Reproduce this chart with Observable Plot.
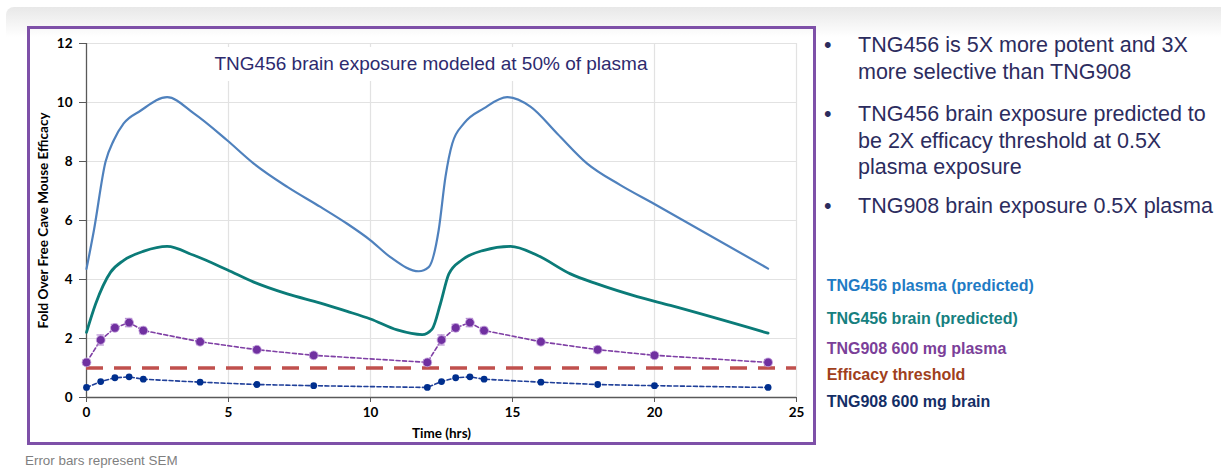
<!DOCTYPE html>
<html><head><meta charset="utf-8">
<script src="https://cdn.jsdelivr.net/npm/d3@7"></script>
<script src="https://cdn.jsdelivr.net/npm/@observablehq/plot@0.6"></script>
<style>
body{margin:0;width:1221px;height:470px;position:relative;background:#fff;font-family:"Liberation Sans",Arial,sans-serif;overflow:hidden}
#shade{position:absolute;left:6px;right:0;top:7px;height:30px;background:linear-gradient(#e8e8e8,rgba(255,255,255,0));border-top-left-radius:8px}
#frame{position:absolute;left:27px;top:26px;width:789px;height:419px;box-sizing:border-box;border:3px solid #7e50a8}
#chart{position:absolute;left:29px;top:27px}
#ptitle{position:absolute;left:211px;top:47px;width:440px;height:34px;line-height:34px;background:#fff;text-align:center;font-size:19px;color:#2d2a6e;white-space:nowrap}
.bul{position:absolute;left:858px;font-size:21.5px;line-height:26.5px;color:#2c2c5e;white-space:nowrap}
.dot{position:absolute;left:-34px;top:0;font-size:21.5px}
.leg{position:absolute;left:826.7px;font-size:16px;line-height:18px;font-weight:bold;white-space:nowrap}
#foot{position:absolute;left:25px;top:453.4px;font-size:13.4px;line-height:16px;color:#7f7f7f}
</style></head><body>
<div id="shade"></div>
<div id="chart"></div>
<div id="frame"></div>
<div id="ptitle"></div>
<div id="bullets"></div>
<div id="legend"></div>
<div id="foot">Error bars represent SEM</div>
<script>
// ---- data ----
const xTicks = [0, 5, 10, 15, 20, 25];
const yTicks = [0, 2, 4, 6, 8, 10, 12];

const tng456PlasmaT = [0, 0.26, 0.67, 0.96, 1.31, 1.9, 2.84, 3.78, 4.95, 5.89, 7.07, 8.24, 9.18, 10.0, 10.7, 11.7, 12.05, 12.4, 12.64, 12.88, 13.29, 13.99, 14.81, 15.63, 16.57, 17.63, 18.8, 19.98, 24.0];
const tng456PlasmaV = [4.36, 5.66, 7.99, 8.72, 9.29, 9.72, 10.18, 9.63, 8.72, 7.93, 7.14, 6.46, 5.89, 5.33, 4.76, 4.28, 4.42, 5.67, 7.48, 8.61, 9.29, 9.80, 10.18, 9.86, 8.95, 7.93, 7.20, 6.57, 4.37];

const tng456BrainT = [0, 0.32, 0.85, 1.31, 2.02, 2.84, 3.78, 4.95, 5.89, 7.07, 8.24, 9.18, 10.0, 10.94, 11.82, 12.17, 12.46, 12.76, 13.23, 13.99, 14.93, 15.87, 17.04, 17.98, 19.39, 20.56, 24.0];
const tng456BrainV = [2.21, 3.17, 4.25, 4.65, 4.96, 5.12, 4.82, 4.33, 3.91, 3.51, 3.20, 2.92, 2.66, 2.29, 2.13, 2.32, 3.17, 4.19, 4.67, 4.99, 5.12, 4.82, 4.19, 3.85, 3.42, 3.12, 2.18];

const tng908T = [0, 0.5, 1, 1.5, 2, 4, 6, 8, 12, 12.5, 13, 13.5, 14, 16, 18, 20, 24];
const tng908PlasmaV = [1.19, 1.95, 2.36, 2.54, 2.27, 1.89, 1.62, 1.43, 1.19, 1.95, 2.36, 2.54, 2.27, 1.89, 1.62, 1.43, 1.19];
const tng908PlasmaSEM = [0.08, 0.17, 0.12, 0.14, 0.11, 0.1, 0.1, 0.08, 0.08, 0.17, 0.12, 0.14, 0.11, 0.1, 0.1, 0.08, 0.1];
const tng908BrainV = [0.34, 0.54, 0.67, 0.70, 0.62, 0.52, 0.44, 0.40, 0.34, 0.54, 0.67, 0.70, 0.62, 0.52, 0.44, 0.40, 0.34];
const threshold = [1];

const chartTitle = "TNG456 brain exposure modeled at 50% of plasma";
const xLabel = "Time (hrs)";
const yLabel = "Fold Over Free Cave Mouse Efficacy";
const bulletTexts = [
  ["TNG456 is 5X more potent and 3X", "more selective than TNG908"],
  ["TNG456 brain exposure predicted to", "be 2X efficacy threshold at 0.5X", "plasma exposure"],
  ["TNG908 brain exposure 0.5X plasma"]
];
const legendNames = ["TNG456 plasma (predicted)", "TNG456 brain (predicted)", "TNG908 600 mg plasma", "Efficacy threshold", "TNG908 600 mg brain"];
const legendColors = ["#1f7bc4", "#16807f", "#7b3f99", "#a0401c", "#142e66"];

// ---- tables ----
const plasma456 = tng456PlasmaT.map((t, i) => ({t, v: tng456PlasmaV[i]}));
const brain456 = tng456BrainT.map((t, i) => ({t, v: tng456BrainV[i]}));
const p908 = tng908T.map((t, i) => ({t, v: tng908PlasmaV[i], e: tng908PlasmaSEM[i]}));
const b908 = tng908T.map((t, i) => ({t, v: tng908BrainV[i]}));

const chart = Plot.plot({
  width: 786, height: 415,
  marginLeft: 57, marginRight: 19, marginTop: 16, marginBottom: 45,
  style: {fontFamily: "Lato, sans-serif", fontWeight: "bold", fontSize: "13.5px", color: "#000", background: "transparent"},
  x: {domain: [0, 25]},
  y: {domain: [0, 12]},
  marks: [
    Plot.gridY(yTicks.filter(d => d > 0), {stroke: "#e2e2e2", strokeOpacity: 1, strokeWidth: 1.2}),
    Plot.gridX(xTicks.filter(d => d > 0), {stroke: "#e2e2e2", strokeOpacity: 1, strokeWidth: 1.2}),
    Plot.axisX({ticks: xTicks, tickSize: 5, tickPadding: 5, stroke: "#595959", fontSize: 13.5, label: xLabel, labelAnchor: "center", labelOffset: 40, labelArrow: "none", fill: "#000"}),
    Plot.axisY({ticks: yTicks, tickSize: 7, tickPadding: 7, stroke: "#595959", fontSize: 13.5, label: yLabel, labelAnchor: "center", labelOffset: 48, labelArrow: "none", fill: "#000"}),
    Plot.ruleX([0], {stroke: "#595959", strokeWidth: 1.3}),
    Plot.ruleY([0], {stroke: "#595959", strokeWidth: 1.3}),
    Plot.ruleY(threshold, {stroke: "#c0504d", strokeWidth: 3.6, strokeDasharray: "17,11"}),
    Plot.line(plasma456, {x: "t", y: "v", stroke: "#4f81bd", strokeWidth: 2.2, curve: "monotone-x"}),
    Plot.line(brain456, {x: "t", y: "v", stroke: "#0b7b78", strokeWidth: 2.8, curve: "monotone-x"}),
    Plot.line(b908, {x: "t", y: "v", stroke: "#1f3f99", strokeWidth: 1.6, strokeDasharray: "4,2.5"}),
    Plot.dot(b908, {x: "t", y: "v", r: 3.4, fill: "#002f8e", stroke: "none"}),
    Plot.line(p908, {x: "t", y: "v", stroke: "#7f3fa5", strokeWidth: 1.6, strokeDasharray: "4,2.5"}),
    Plot.ruleX(p908, {x: "t", y1: d => d.v - d.e, y2: d => d.v + d.e, stroke: "#b68fd2", strokeWidth: 1.3}),
    Plot.ruleY(p908, {y: d => d.v - d.e, x1: d => d.t - 0.13, x2: d => d.t + 0.13, stroke: "#b68fd2", strokeWidth: 1.2}),
    Plot.ruleY(p908, {y: d => d.v + d.e, x1: d => d.t - 0.13, x2: d => d.t + 0.13, stroke: "#b68fd2", strokeWidth: 1.2}),
    Plot.dot(p908, {x: "t", y: "v", r: 4.4, fill: "#7030a0", stroke: "#c6a6de", strokeWidth: 0.8})
  ]
});
document.getElementById("chart").appendChild(chart);

document.getElementById("ptitle").textContent = chartTitle;

const bulletTops = [32.3, 101.3, 193.3];
const bdiv = document.getElementById("bullets");
bulletTexts.forEach((lines, i) => {
  const d = document.createElement("div");
  d.className = "bul";
  d.style.top = bulletTops[i] + "px";
  const dot = document.createElement("span");
  dot.className = "dot";
  dot.textContent = "•";
  d.appendChild(dot);
  lines.forEach((ln, j) => {
    if (j) d.appendChild(document.createElement("br"));
    d.appendChild(document.createTextNode(ln));
  });
  bdiv.appendChild(d);
});

const legendTops = [277.2, 309.5, 339.5, 365.5, 392.8];
const ldiv = document.getElementById("legend");
legendNames.forEach((n, i) => {
  const d = document.createElement("div");
  d.className = "leg";
  d.style.top = legendTops[i] + "px";
  d.style.color = legendColors[i];
  d.textContent = n;
  ldiv.appendChild(d);
});
</script>
</body></html>
